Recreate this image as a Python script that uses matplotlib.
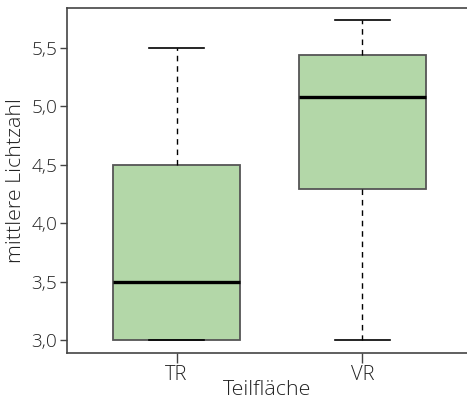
import matplotlib
matplotlib.use("Agg")
import matplotlib.pyplot as plt
from matplotlib.ticker import FuncFormatter

categories = ["TR", "VR"]
whisker_low = [3.0, 3.0]
q1 = [3.0, 4.29]
median = [3.5, 5.08]
q3 = [4.5, 5.44]
whisker_high = [5.5, 5.74]

plt.rcParams['font.family'] = ['Open Sans', 'DejaVu Sans']
plt.rcParams['font.weight'] = 'light'

fig = plt.figure(figsize=(4.67, 4.01), dpi=100)
ax = fig.add_axes([0.1435, 0.1197, 0.8565, 0.8603])

stats = []
for i, c in enumerate(categories):
    stats.append(dict(label=c, whislo=whisker_low[i], q1=q1[i], med=median[i],
                      q3=q3[i], whishi=whisker_high[i], fliers=[]))

ax.bxp(stats, positions=[1, 2], widths=0.68, patch_artist=True, showfliers=False,
       boxprops=dict(facecolor='#b3d7a8', edgecolor='#555555', linewidth=1.3),
       medianprops=dict(color='black', linewidth=2.4),
       whiskerprops=dict(color='black', linewidth=1.0, linestyle=(0, (4, 3.5))),
       capprops=dict(color='black', linewidth=1.2),
       capwidths=0.3)

ax.set_xlim(0.411, 2.562)
ax.set_ylim(2.889, 5.842)
ax.set_yticks([3.0, 3.5, 4.0, 4.5, 5.0, 5.5])
ax.yaxis.set_major_formatter(FuncFormatter(lambda v, p: f"{v:.1f}".replace('.', ',')))

for s in ['top', 'left', 'bottom']:
    ax.spines[s].set_color('#444444')
    ax.spines[s].set_linewidth(1.2)
ax.spines['right'].set_visible(False)

ax.tick_params(axis='y', length=5, width=1, color='#444444', labelsize=13.7, labelcolor='#222222', pad=2)
ax.tick_params(axis='x', length=7, width=1, color='#444444', labelsize=14.5, labelcolor='#222222', pad=1.5)

ax.set_ylabel("mittlere Lichtzahl", fontsize=15.4, color='#222222', labelpad=4, fontweight='light')
ax.set_xlabel("Teilfläche", fontsize=15.4, color='#222222', labelpad=-3.5, fontweight='light')

fig.savefig("out.png", dpi=100)
